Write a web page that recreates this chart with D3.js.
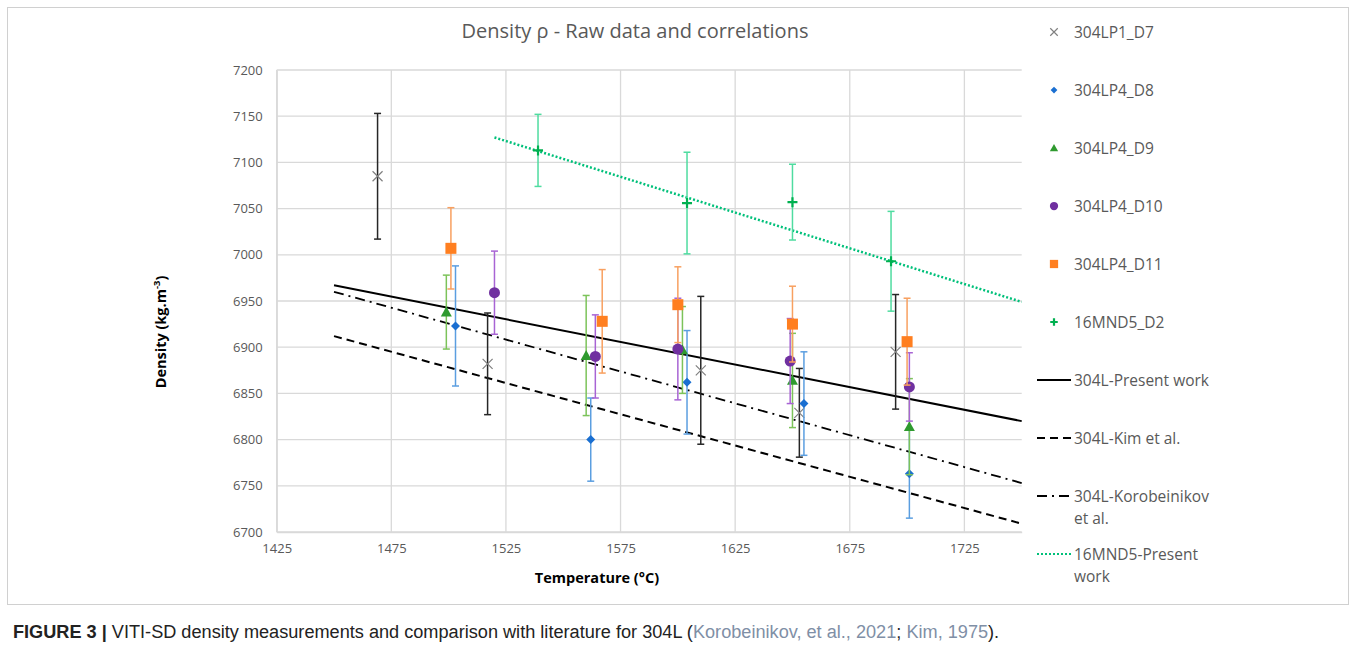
<!DOCTYPE html>
<html><head><meta charset="utf-8">
<script src="https://cdn.jsdelivr.net/npm/d3@7"></script>
<style>
body{margin:0;background:#fff;}
svg{display:block;}
</style></head>
<body>
<svg id="chart" width="1356" height="652"></svg>
<script>
// ---- data ----
const xTicks = [1425, 1475, 1525, 1575, 1625, 1675, 1725];
const yTicks = [6700, 6750, 6800, 6850, 6900, 6950, 7000, 7050, 7100, 7150, 7200];

const d7_T   = [1469, 1517, 1610, 1653, 1695];
const d7_rho = [7085, 6882, 6875, 6829, 6895];
const d7_err = [68, 55, 80, 48, 62];

const d8_T   = [1503, 1562, 1604, 1655, 1701];
const d8_rho = [6923, 6800, 6862, 6839, 6763];
const d8_err = [65, 45, 56, 56, 48];

const d9_T   = [1499, 1560, 1602, 1650, 1701];
const d9_rho = [6938, 6891, 6897, 6864, 6814];
const d9_err = [40, 65, 47, 51, 52];

const d10_T   = [1520, 1564, 1600, 1649, 1701];
const d10_rho = [6959, 6890, 6898, 6885, 6857];
const d10_err = [45, 45, 55, 46, 37];

const d11_T   = [1501, 1567, 1600, 1650, 1700];
const d11_rho = [7007, 6928, 6946, 6925, 6906];
const d11_err = [44, 56, 41, 41, 47];

const mnd_T   = [1539, 1604, 1650, 1693];
const mnd_rho = [7113, 7056, 7057, 6993];
const mnd_err = [39, 55, 41, 54];

const present304_T = [1450, 1750];
const present304_rho = [6967, 6820];
const kim_T = [1450, 1750];
const kim_rho = [6912, 6709];
const korob_T = [1450, 1750];
const korob_rho = [6960, 6753];
const mnd5fit_T = [1520, 1750];
const mnd5fit_rho = [7127, 6949];

// ---- layout ----
const svg = d3.select("#chart");
const L = 276.7, R = 1021.7, T = 70, B = 532;
const x = d3.scaleLinear().domain([1425, 1750]).range([L, R]);
const y = d3.scaleLinear().domain([6700, 7200]).range([B, T]);
const FONT = "'Open Sans', Lato, sans-serif";
const TXT = "#595959";

// frame
svg.append("rect").attr("x", 7.5).attr("y", 7.5).attr("width", 1341).attr("height", 597)
  .attr("fill", "none").attr("stroke", "#d0d0d0").attr("stroke-width", 1);

// gridlines
svg.append("g").selectAll("line").data(yTicks).join("line")
  .attr("x1", L).attr("x2", R).attr("y1", d => y(d)).attr("y2", d => y(d))
  .attr("stroke", "#d9d9d9").attr("stroke-width", 1.3);
svg.append("g").selectAll("line").data(xTicks).join("line")
  .attr("x1", d => x(d)).attr("x2", d => x(d)).attr("y1", T).attr("y2", B)
  .attr("stroke", "#d9d9d9").attr("stroke-width", 1.3);

// axes (labels only)
const xAxis = svg.append("g").attr("transform", `translate(0,${B})`)
  .call(d3.axisBottom(x).tickValues(xTicks).tickSize(0).tickPadding(12).tickFormat(d3.format("d")));
xAxis.select(".domain").attr("stroke", "#d9d9d9").attr("stroke-width", 1.3);
xAxis.selectAll("text").attr("font-family", FONT).attr("font-size", 13).attr("fill", TXT);
const yAxis = svg.append("g").attr("transform", `translate(${L},0)`)
  .call(d3.axisLeft(y).tickValues(yTicks).tickSize(0).tickPadding(14).tickFormat(d3.format("d")));
yAxis.select(".domain").attr("stroke", "#d9d9d9").attr("stroke-width", 1.3);
yAxis.selectAll("text").attr("font-family", FONT).attr("font-size", 13).attr("fill", TXT);

// title
svg.append("text").attr("x", 635).attr("y", 38).attr("text-anchor", "middle")
  .attr("font-family", FONT).attr("font-size", 20).attr("fill", TXT)
  .text("Density ρ - Raw data and correlations");

// axis titles
svg.append("text").attr("x", 597).attr("y", 583).attr("text-anchor", "middle")
  .attr("font-family", FONT).attr("font-size", 14.5).attr("font-weight", "bold").attr("fill", "#000")
  .text("Temperature (°C)");
const yt = svg.append("text").attr("transform", "translate(166,332) rotate(-90)").attr("text-anchor", "middle")
  .attr("font-family", FONT).attr("font-size", 14.5).attr("font-weight", "bold").attr("fill", "#000");
yt.append("tspan").text("Density (kg.m");
yt.append("tspan").attr("dy", -6).attr("font-size", 9.5).text("-3");
yt.append("tspan").attr("dy", 6).text(")");

// correlation lines
const line = d3.line().x(d => x(d[0])).y(d => y(d[1]));
const fits = [
  {T: present304_T, r: present304_rho, color: "#000", w: 2, dash: null},
  {T: kim_T, r: kim_rho, color: "#000", w: 2, dash: "8,5"},
  {T: korob_T, r: korob_rho, color: "#000", w: 1.8, dash: "10,5,2,5"},
  {T: mnd5fit_T, r: mnd5fit_rho, color: "#00c07a", w: 2.5, dash: "2,2"}
];
fits.forEach(f => {
  svg.append("path").datum(d3.zip(f.T, f.r)).attr("d", line)
    .attr("fill", "none").attr("stroke", f.color).attr("stroke-width", f.w)
    .attr("stroke-dasharray", f.dash);
});

// series
const series = [
  {T: d7_T, r: d7_rho, e: d7_err, mark: "x", mc: "#808080", ec: "#262626"},
  {T: d8_T, r: d8_rho, e: d8_err, mark: "diamond", mc: "#1a6fd1", ec: "#5b9ee0"},
  {T: d9_T, r: d9_rho, e: d9_err, mark: "triangle", mc: "#2f9a2f", ec: "#7cc35a"},
  {T: d10_T, r: d10_rho, e: d10_err, mark: "circle", mc: "#7030a0", ec: "#a864d4"},
  {T: d11_T, r: d11_rho, e: d11_err, mark: "square", mc: "#ff7f20", ec: "#f8a060"},
  {T: mnd_T, r: mnd_rho, e: mnd_err, mark: "plus", mc: "#00b050", ec: "#4fdca0"}
];

function drawMarker(g, type, cx, cy, color, scale) {
  const s = scale || 1;
  if (type === "x") {
    const a = 5 * s;
    g.append("path").attr("d", `M${cx-a},${cy-a}L${cx+a},${cy+a}M${cx-a},${cy+a}L${cx+a},${cy-a}`)
      .attr("stroke", color).attr("stroke-width", 1.2).attr("fill", "none");
  } else if (type === "diamond") {
    const a = 4.5 * s;
    g.append("path").attr("d", `M${cx},${cy-a}L${cx+a},${cy}L${cx},${cy+a}L${cx-a},${cy}Z`).attr("fill", color);
  } else if (type === "triangle") {
    const a = 5.5 * s;
    g.append("path").attr("d", `M${cx},${cy-a}L${cx+a},${cy+a*0.8}L${cx-a},${cy+a*0.8}Z`).attr("fill", color);
  } else if (type === "circle") {
    g.append("circle").attr("cx", cx).attr("cy", cy).attr("r", 5.5 * s).attr("fill", color);
  } else if (type === "square") {
    const a = 5.5 * s;
    g.append("rect").attr("x", cx - a).attr("y", cy - a).attr("width", 2 * a).attr("height", 2 * a).attr("fill", color);
  } else if (type === "plus") {
    const a = 5 * s;
    g.append("path").attr("d", `M${cx-a},${cy}L${cx+a},${cy}M${cx},${cy-a}L${cx},${cy+a}`)
      .attr("stroke", color).attr("stroke-width", 2.2).attr("fill", "none");
  }
}

series.forEach(s => {
  const g = svg.append("g");
  const pts = d3.zip(s.T, s.r, s.e);
  g.selectAll("line.eb").data(pts).join("line").attr("class", "eb")
    .attr("x1", d => x(d[0])).attr("x2", d => x(d[0]))
    .attr("y1", d => y(d[1] + d[2])).attr("y2", d => y(d[1] - d[2]))
    .attr("stroke", s.ec).attr("stroke-width", 1.5);
  pts.forEach(d => {
    [d[1] + d[2], d[1] - d[2]].forEach(v => {
      g.append("line").attr("x1", x(d[0]) - 3.5).attr("x2", x(d[0]) + 3.5)
        .attr("y1", y(v)).attr("y2", y(v)).attr("stroke", s.ec).attr("stroke-width", 1.5);
    });
  });
  pts.forEach(d => drawMarker(g, s.mark, x(d[0]), y(d[1]), s.mc, 1));
});

// legend
const legendNames = ["304LP1_D7", "304LP4_D8", "304LP4_D9", "304LP4_D10", "304LP4_D11", "16MND5_D2"];
const legendLines = [["304L-Present work"], ["304L-Kim et al."], ["304L-Korobeinikov", "et al."], ["16MND5-Present", "work"]];
const lg = svg.append("g");
const LX = 1074, ly0 = 32, ldy = 58;
legendNames.forEach((n, i) => {
  const cy = ly0 + i * ldy;
  drawMarker(lg, series[i].mark, 1054, cy, series[i].mc, 0.75);
  lg.append("text").attr("x", LX).attr("y", cy + 5.5).attr("font-family", FONT).attr("font-size", 15.5)
    .attr("fill", TXT).text(n);
});
legendLines.forEach((ls, j) => {
  const cy = ly0 + (6 + j) * ldy;
  const f = fits[j];
  lg.append("line").attr("x1", 1037).attr("x2", 1071).attr("y1", cy).attr("y2", cy)
    .attr("stroke", f.color).attr("stroke-width", j === 3 ? 1.8 : f.w).attr("stroke-dasharray", f.dash);
  ls.forEach((t, k) => {
    lg.append("text").attr("x", LX).attr("y", cy + 5.5 + k * 22).attr("font-family", FONT).attr("font-size", 15.5)
      .attr("fill", TXT).text(t);
  });
});

// caption
const cap = svg.append("text").attr("x", 13).attr("y", 638)
  .attr("font-family", "'Liberation Sans Narrow', 'Liberation Sans', Arial, sans-serif").attr("font-size", 16).attr("fill", "#222");
cap.append("tspan").attr("font-weight", "bold").text("FIGURE 3 | ");
cap.append("tspan").text("VITI-SD density measurements and comparison with literature for 304L (");
cap.append("tspan").attr("fill", "#7f8fa6").text("Korobeinikov, et al., 2021");
cap.append("tspan").text("; ");
cap.append("tspan").attr("fill", "#7f8fa6").text("Kim, 1975");
cap.append("tspan").text(").");
const w = cap.node().getComputedTextLength();
cap.attr("font-size", 16 * 987 / w);
</script>
</body></html>
